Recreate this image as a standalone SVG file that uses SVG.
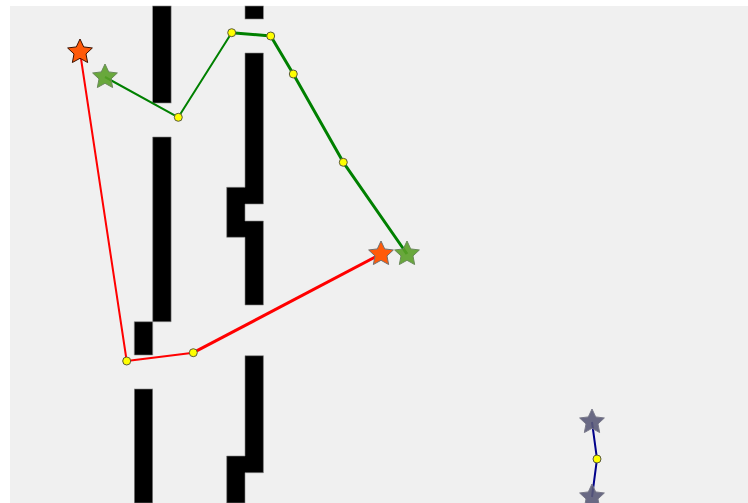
<svg xmlns="http://www.w3.org/2000/svg" width="748" height="503" viewBox="0 0 748 503">
<style>
.obs{fill:#000;stroke:#888;stroke-width:0.6}
.wp{fill:#ffff00;stroke:#5a5a3a;stroke-width:1}
.red{fill:none;stroke:#ff0000;stroke-linejoin:round}
.green{fill:none;stroke:#008000;stroke-linejoin:round}
.blue{fill:none;stroke:#00008b;stroke-width:2}
.sr{fill:#ff5a0a;stroke:#3a1000;stroke-width:1}
.sr2{fill:#ff5a0a;stroke:#707070;stroke-width:1}
.sg{fill:#5aa028;stroke:#6a8a5a;stroke-width:1;fill-opacity:0.9}
.sb{fill:#5a5a78;stroke:#7a7a8a;stroke-width:1;fill-opacity:0.9}
</style>
<defs>
<path id="star" d="M0,-13 L3.70,-5.09 L12.36,-4.02 L5.99,1.95 L7.64,10.52 L0,6.3 L-7.64,10.52 L-5.99,1.95 L-12.36,-4.02 L-3.70,-5.09 Z"/>
</defs>
<rect x="0" y="0" width="748" height="503" fill="#ffffff"/>
<rect x="10" y="6" width="738" height="497" fill="#f0f0f0"/>
<g id="obstacles">
<rect class="obs" x="152.7" y="6" width="18.4" height="97"/>
<path class="obs" d="M152.7,137 H171.1 V321.7 H152.7 V355 H134.3 V321.7 H152.7 Z"/>
<rect class="obs" x="134.3" y="389" width="18.4" height="114"/>
<rect class="obs" x="245" y="6" width="18.4" height="13"/>
<path class="obs" d="M245,53 H263.4 V204 H245 V221 H263.4 V305 H245 V237.3 H226.7 V187.3 H245 Z"/>
<path class="obs" d="M245,355.7 H263.4 V472.7 H245 V503 H226.7 V456 H245 Z"/>
</g>
<g id="connectors">
<polyline class="red" stroke-width="2" points="80,52 126.7,361 193.3,352.7"/>
<polyline class="red" stroke-width="3" points="193.3,352.7 381,254"/>
<polyline class="green" stroke-width="2" points="105,77 178.3,117.3 231.7,32.7"/>
<polyline class="green" stroke-width="3" points="231.7,32.7 270.7,36 293.3,74 343.3,162.3 407,254"/>
<polyline class="blue" points="592,422 597,459 592,497"/>
</g>
<g id="start-red"><use href="#star" class="sr" x="80" y="52"/></g>
<g id="start-green"><use href="#star" class="sg" x="105" y="77"/></g>
<g id="goal-red"><use href="#star" class="sr2" x="381" y="254"/></g>
<g id="goal-green"><use href="#star" class="sg" x="407" y="254"/></g>
<g id="start-blue"><use href="#star" class="sb" x="592" y="422"/></g>
<g id="goal-blue"><use href="#star" class="sb" x="592" y="497"/></g>
<g id="waypoints">
<circle class="wp" cx="178.3" cy="117.3" r="4"/>
<circle class="wp" cx="231.7" cy="32.7" r="4"/>
<circle class="wp" cx="270.7" cy="36" r="4"/>
<circle class="wp" cx="293.3" cy="74" r="4"/>
<circle class="wp" cx="343.3" cy="162.3" r="4"/>
<circle class="wp" cx="126.7" cy="361" r="4"/>
<circle class="wp" cx="193.3" cy="352.7" r="4"/>
<circle class="wp" cx="597" cy="459" r="4"/>
</g>
</svg>
